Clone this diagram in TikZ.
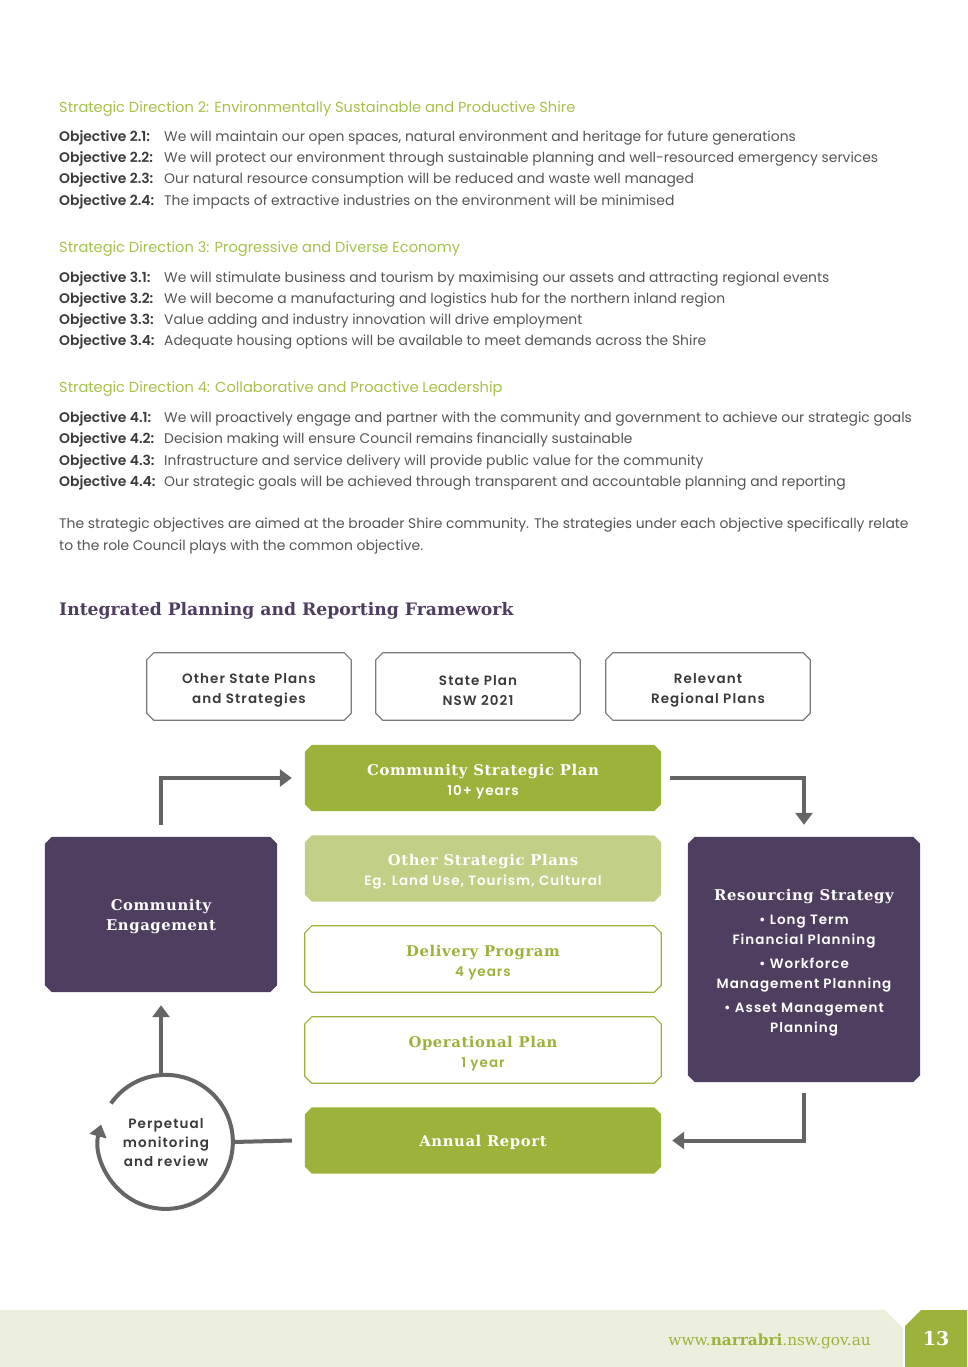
\documentclass[tikz,border=0pt]{standalone}
\usepackage{fontspec}
\setmainfont{Poppins}
\newfontfamily\psemi{Poppins SemiBold}
\newfontfamily\slab{DejaVu Serif}
\usetikzlibrary{arrows.meta}
\definecolor{gdark}{HTML}{9BB33A}
\definecolor{glight}{HTML}{C2CF86}
\definecolor{gtext}{HTML}{A5C24A}
\definecolor{purp}{HTML}{4E3E60}
\definecolor{tgray}{HTML}{555555}
\definecolor{tdark}{HTML}{3A3A3A}
\definecolor{agray}{HTML}{646567}
\definecolor{bgray}{HTML}{7A7A7A}
\definecolor{foot}{HTML}{ECEFDE}
\newcommand{\slt}{\slab\bfseries\fontsize{14.8}{20}\selectfont\addfontfeature{LetterSpace=4}}
\newcommand{\sst}{\psemi\fontsize{13.5}{20}\selectfont\addfontfeature{LetterSpace=7.5}}
\newcommand{\chbox}[2]{\path[#2] ([xshift=7pt]#1.north west) -- ([xshift=-7pt]#1.north east) -- ([yshift=-7pt]#1.north east) -- ([yshift=7pt]#1.south east) -- ([xshift=-7pt]#1.south east) -- ([xshift=7pt]#1.south west) -- ([yshift=7pt]#1.south west) -- ([yshift=-7pt]#1.north west) -- cycle;}
\tikzset{
 body/.style={anchor=base west, inner sep=0pt, font=\fontsize{13.9}{15}\selectfont, text=tgray},
 lab/.style={anchor=base west, inner sep=0pt, font=\psemi\fontsize{13.9}{15}\selectfont, text=tdark},
 sdir/.style={anchor=base west, inner sep=0pt, font=\fontsize{14.6}{15}\selectfont, text=gtext},
 cbox/.style={rectangle, inner sep=0pt, minimum width=356pt, minimum height=66pt},
 topbox/.style={rectangle, inner sep=0pt, minimum width=204pt, minimum height=67pt},
 sidebox/.style={rectangle, inner sep=0pt, minimum width=232pt},
 topline/.style={draw=bgray, line width=1.2pt, line join=miter},
 gline/.style={draw=gdark, line width=1.2pt, fill=white},
 txt/.style={inner sep=0pt, align=center, font=\fontsize{14}{20}\selectfont},
 toptxt/.style={inner sep=0pt, align=center, text=tdark, font=\psemi\fontsize{13.5}{20}\selectfont\addfontfeature{LetterSpace=8}},
 arr/.style={draw=agray, line width=4pt, -{Triangle[width=17pt,length=12pt]}},
 ln/.style={draw=agray, line width=4pt},
}
\begin{document}
\begin{tikzpicture}[x=1pt,y=-1pt]
\useasboundingbox (0,0) rectangle (967,1367);
% ---------- text block ----------
\node[sdir] (sd2) at (59,113) {Strategic Direction 2: Environmentally Sustainable and Productive Shire};
\node[lab] (l21) at (59,142) {Objective 2.1:};
\node[body] (t21) at (164,142) {We will maintain our open spaces, natural environment and heritage for future generations};
\node[lab] (l22) at (59,163) {Objective 2.2:};
\node[body] (t22) at (164,163) {We will protect our environment through sustainable planning and well-resourced emergency services};
\node[lab] (l23) at (59,184) {Objective 2.3:};
\node[body] (t23) at (164,184) {Our natural resource consumption will be reduced and waste well managed};
\node[lab] (l24) at (59,205) {Objective 2.4:};
\node[body] (t24) at (164,205) {The impacts of extractive industries on the environment will be minimised};

\node[sdir] (sd3) at (59,252) {Strategic Direction 3: Progressive and Diverse Economy};
\node[lab] (l31) at (59,282) {Objective 3.1:};
\node[body] (t31) at (164,282) {We will stimulate business and tourism by maximising our assets and attracting regional events};
\node[lab] (l32) at (59,303) {Objective 3.2:};
\node[body] (t32) at (164,303) {We will become a manufacturing and logistics hub for the northern inland region};
\node[lab] (l33) at (59,324) {Objective 3.3:};
\node[body] (t33) at (164,324) {Value adding and industry innovation will drive employment};
\node[lab] (l34) at (59,345) {Objective 3.4:};
\node[body] (t34) at (164,345) {Adequate housing options will be available to meet demands across the Shire};

\node[sdir] (sd4) at (59,392) {Strategic Direction 4: Collaborative and Proactive Leadership};
\node[lab] (l41) at (59,422) {Objective 4.1:};
\node[body] (t41) at (164,422) {We will proactively engage and partner with the community and government to achieve our strategic goals};
\node[lab] (l42) at (59,443) {Objective 4.2:};
\node[body] (t42) at (164,443) {Decision making will ensure Council remains financially sustainable};
\node[lab] (l43) at (59,465) {Objective 4.3:};
\node[body] (t43) at (164,465) {Infrastructure and service delivery will provide public value for the community};
\node[lab] (l44) at (59,486) {Objective 4.4:};
\node[body] (t44) at (164,486) {Our strategic goals will be achieved through transparent and accountable planning and reporting};

\node[body] (p1) at (59,528) {The strategic objectives are aimed at the broader Shire community. The strategies under each objective specifically relate};
\node[body] (p2) at (59,550) {to the role Council plays with the common objective.};

\node[anchor=base west, inner sep=0pt, text=purp, font=\slab\bfseries\fontsize{17.2}{18}\selectfont] (head) at (59,615) {Integrated Planning and Reporting Framework};

% ---------- diagram boxes (frames) ----------
\node[topbox] (osp) at (249,686.5) {};
\node[topbox] (spn) at (478,686.5) {};
\node[topbox] (rrp) at (708,686.5) {};
\node[cbox] (csp) at (483,778) {};
\node[cbox] (otp) at (483,868.5) {};
\node[cbox] (dp) at (483,959) {};
\node[cbox] (op) at (483,1050) {};
\node[cbox] (ar) at (483,1140.5) {};
\node[sidebox, minimum height=155pt] (ce) at (161,914.5) {};
\node[sidebox, minimum height=245pt] (rs) at (804,959.5) {};

\chbox{osp}{topline}
\chbox{spn}{topline}
\chbox{rrp}{topline}
\chbox{csp}{fill=gdark}
\chbox{otp}{fill=glight}
\chbox{dp}{gline}
\chbox{op}{gline}
\chbox{ar}{fill=gdark}
\chbox{ce}{fill=purp}
\chbox{rs}{fill=purp}

% ---------- texts ----------
\node[toptxt] (osp-t) at ([yshift=-4pt]osp.center) {Other State Plans\\and Strategies};
\node[toptxt] (spn-t) at ([yshift=-4pt]spn.center) {State Plan\\NSW 2021};
\node[toptxt] (rrp-t) at ([yshift=-4pt]rrp.center) {Relevant\\Regional Plans};
\node[txt, text=white] (csp-t) at ([yshift=-4pt]csp.center) {\slt Community Strategic Plan\\\sst 10+ years};
\node[txt, text=white] (otp-t) at ([yshift=-3pt]otp.center) {\slt Other Strategic Plans\\\sst Eg. Land Use, Tourism, Cultural};
\node[txt, text=gdark] (dp-t) at ([yshift=-4pt]dp.center) {\slt Delivery Program\\\sst 4 years};
\node[txt, text=gdark] (op-t) at ([yshift=-4pt]op.center) {\slt Operational Plan\\\sst 1 year};
\node[txt, text=white] (ar-t) at ([yshift=-2pt]ar.center) {\slt Annual Report};
\node[txt, text=white] (ce-t) at ([yshift=-2pt]ce.center) {\slt Community\\\slt Engagement};
\node[txt, text=white] (rs-t) at ([yshift=-3pt]rs.center) {\slt Resourcing Strategy\\[4pt]
\sst\textbullet\ Long Term\\
\sst Financial Planning\\[4pt]
\sst\textbullet\ Workforce\\
\sst Management Planning\\[4pt]
\sst\textbullet\ Asset Management\\
\sst Planning};

\node[circle, minimum size=134pt, inner sep=0pt] (pm) at (166,1142) {};
\node[inner sep=0pt, align=center, text=tdark, font=\psemi\fontsize{13.5}{19}\selectfont\addfontfeature{LetterSpace=8}] (pm-t) at ([yshift=-1pt]pm.center) {Perpetual\\monitoring\\and review};

% ---------- connectors ----------
\draw[arr] ([yshift=12pt]ce.north) |- ([xshift=-13pt]csp.west);
\draw[arr] ([xshift=9pt]csp.east) -| ([yshift=12pt]rs.north);
\draw[arr] ([yshift=-11pt]rs.south) |- ([xshift=11pt]ar.east);
\draw[ln] (pm.east) -- ([xshift=-13pt]ar.west);
\draw[arr] (pm.north -| ce.south) -- ([yshift=-13pt]ce.south);
\draw[draw=agray, line width=4pt, -{Triangle[width=17pt,length=12pt]}] (pm.145) arc[start angle=145, end angle=-195, radius=67pt];

% ---------- footer ----------
\fill[foot] (0,1310) -- (885,1310) -- (903,1328) -- (903,1367) -- (0,1367) -- cycle;
\fill[gdark] (921,1310) -- (967,1310) -- (967,1367) -- (905,1367) -- (905,1326) -- cycle;
\node[anchor=base east, inner sep=0pt, text=gdark, font=\slab\fontsize{15.3}{17}\selectfont] (url) at (871,1345) {www.\textbf{narrabri}.nsw.gov.au};
\node[inner sep=0pt, text=white, font=\slab\bfseries\fontsize{19}{20}\selectfont] (pg) at (936,1339) {13};
\end{tikzpicture}
\end{document}
